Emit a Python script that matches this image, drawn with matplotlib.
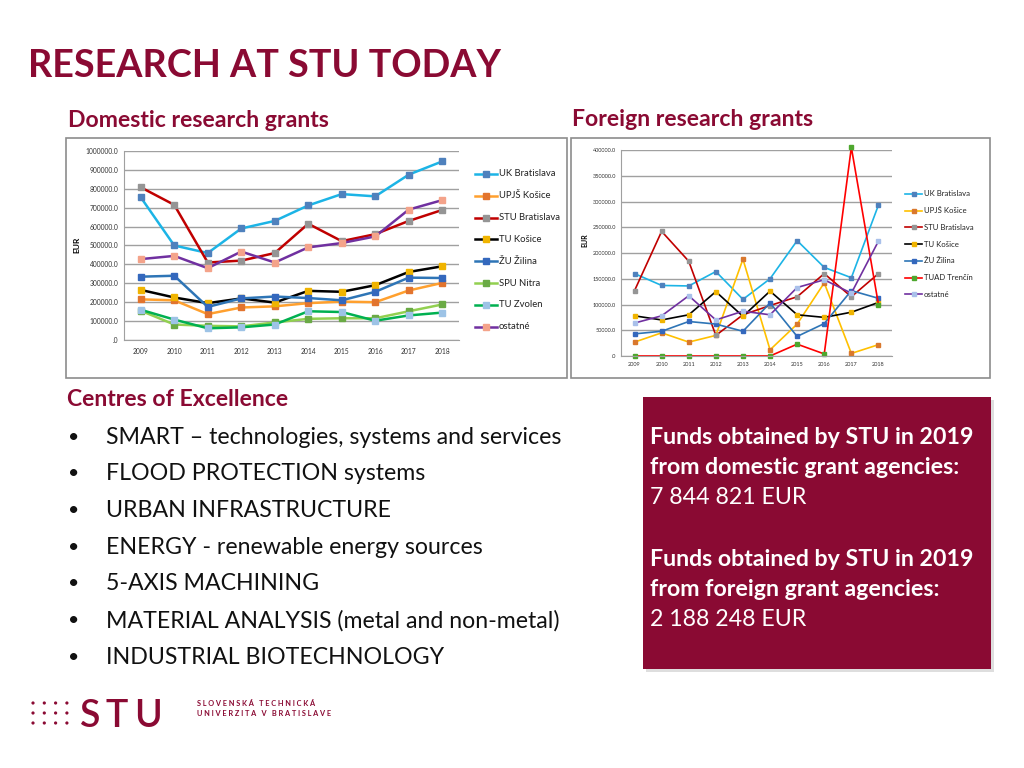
import matplotlib
matplotlib.use('Agg')
import matplotlib.pyplot as plt
from matplotlib.ticker import FuncFormatter, MultipleLocator
from matplotlib.patches import Rectangle, Circle
from matplotlib.lines import Line2D

plt.rcParams['font.family'] = ['Lato', 'DejaVu Sans']

# ---------------- data ----------------
years = ['2009', '2010', '2011', '2012', '2013', '2014', '2015', '2016', '2017', '2018']

dom_names = ['UK Bratislava', 'UPJŠ Košice', 'STU Bratislava', 'TU Košice',
             'ŽU Žilina', 'SPU Nitra', 'TU Zvolen', 'ostatné']
dom_uk_bratislava = [755000, 500000, 460000, 590000, 630000, 712000, 772000, 760000, 875000, 945000]
dom_upjs_kosice = [215000, 210000, 137000, 172000, 178000, 195000, 203000, 200000, 262000, 302000]
dom_stu_bratislava = [808000, 715000, 410000, 420000, 460000, 615000, 523000, 560000, 630000, 688000]
dom_tu_kosice = [265000, 225000, 195000, 220000, 198000, 260000, 255000, 290000, 360000, 390000]
dom_zu_zilina = [335000, 340000, 175000, 220000, 230000, 222000, 210000, 255000, 330000, 328000]
dom_spu_nitra = [155000, 82000, 75000, 72000, 93000, 112000, 115000, 115000, 152000, 188000]
dom_tu_zvolen = [160000, 108000, 62000, 67000, 82000, 152000, 148000, 102000, 130000, 145000]
dom_ostatne = [428000, 445000, 380000, 468000, 410000, 490000, 513000, 548000, 690000, 740000]

for_names = ['UK Bratislava', 'UPJŠ Košice', 'STU Bratislava', 'TU Košice',
             'ŽU Žilina', 'TUAD Trenčín', 'ostatné']
for_uk_bratislava = [160000, 137000, 136000, 164000, 110000, 150000, 224000, 172000, 152000, 293000]
for_upjs_kosice = [27000, 45000, 27000, 40000, 188000, 12000, 62000, 142000, 5000, 22000]
for_stu_bratislava = [127000, 242000, 184000, 40000, 80000, 98000, 115000, 160000, 115000, 160000]
for_tu_kosice = [78000, 70000, 80000, 125000, 77000, 126000, 80000, 75000, 85000, 104000]
for_zu_zilina = [43000, 48000, 67000, 62000, 48000, 103000, 38000, 63000, 127000, 112000]
for_tuad_trencin = [0, 0, 0, 0, 0, 0, 23000, 4000, 405000, 100000]
for_ostatne = [64000, 78000, 117000, 70000, 87000, 80000, 133000, 148000, 122000, 223000]

centres = ['SMART – technologies, systems and services',
           'FLOOD PROTECTION systems',
           'URBAN INFRASTRUCTURE',
           'ENERGY - renewable energy sources',
           '5-AXIS MACHINING',
           'MATERIAL ANALYSIS (metal and non-metal)',
           'INDUSTRIAL BIOTECHNOLOGY']

box_lines = [('Funds obtained by STU in 2019', 'bold'),
             ('from domestic grant agencies:', 'bold'),
             ('7 844 821 EUR', 'normal'),
             ('', 'normal'),
             ('Funds obtained by STU in 2019', 'bold'),
             ('from foreign grant agencies:', 'bold'),
             ('2 188 248 EUR', 'normal')]

# ---------------- styles ----------------
dom_values = [dom_uk_bratislava, dom_upjs_kosice, dom_stu_bratislava, dom_tu_kosice,
              dom_zu_zilina, dom_spu_nitra, dom_tu_zvolen, dom_ostatne]
dom_line_c = ['#1cb4e6', '#ffa02e', '#c00000', '#000000', '#2e75b6', '#92d050', '#00b050', '#7030a0']
dom_mark_c = ['#4f81bd', '#e2742e', '#959595', '#f0b400', '#3468bd', '#6aaa45', '#9dc3e6', '#f4a38a']

for_values = [for_uk_bratislava, for_upjs_kosice, for_stu_bratislava, for_tu_kosice,
              for_zu_zilina, for_tuad_trencin, for_ostatne]
for_line_c = ['#1cb4e6', '#ffc000', '#c00000', '#000000', '#2e75b6', '#ff0000', '#7030a0']
for_mark_c = ['#4f81bd', '#d9782d', '#959595', '#f0b400', '#3468bd', '#4ea72e', '#a9c0ea']

RED = '#8a0a33'
W, H = 1024, 768

fig = plt.figure(figsize=(W / 100, H / 100), dpi=100)
fig.patch.set_facecolor('white')

bg = fig.add_axes([0, 0, 1, 1], zorder=0)
bg.set_xlim(0, W)
bg.set_ylim(H, 0)
bg.axis('off')


def axes_px(l, t, r, b):
    return fig.add_axes([l / W, 1 - b / H, (r - l) / W, (b - t) / H], zorder=2)


def fmt(v, pos):
    return '.0' if v == 0 else f'{v:.1f}'


# title and headers
bg.text(28, 77, 'RESEARCH AT STU TODAY', fontsize=27.2, fontweight='bold', color=RED, va='baseline')
bg.text(68, 127, 'Domestic research grants', fontsize=16.6, fontweight='bold', color=RED, va='baseline')
bg.text(572, 126, 'Foreign research grants', fontsize=16.6, fontweight='bold', color=RED, va='baseline')

# chart frames
bg.add_patch(Rectangle((66, 138), 501, 240, facecolor='white', edgecolor='#8c8c8c', lw=1.2))
bg.add_patch(Rectangle((571, 138), 419, 240, facecolor='white', edgecolor='#8c8c8c', lw=1.2))


def setup_chart(ax, ymax, ystep, ylab_fs, xlab_fs, xpad, ypad):
    ax.set_facecolor('none')
    ax.set_xlim(-0.5, len(years) - 0.5)
    ax.set_ylim(0, ymax)
    ax.yaxis.set_major_locator(MultipleLocator(ystep))
    ax.yaxis.set_major_formatter(FuncFormatter(fmt))
    ax.set_xticks(range(len(years)))
    ax.set_xticklabels(years)
    ax.grid(axis='y', color='#a0a0a0', lw=1.0)
    ax.set_axisbelow(True)
    for s in ['top', 'right']:
        ax.spines[s].set_visible(False)
    ax.spines['left'].set_color('#a0a0a0')
    ax.spines['bottom'].set_color('#a0a0a0')
    ax.tick_params(axis='both', length=0, colors='#333333')
    ax.tick_params(axis='y', labelsize=ylab_fs, pad=ypad)
    ax.tick_params(axis='x', labelsize=xlab_fs, pad=xpad)


# domestic chart
axd = axes_px(124, 151, 459, 340)
setup_chart(axd, 1000000, 100000, 4.8, 4.9, 6, 4)
for vals, lc, mc in zip(dom_values, dom_line_c, dom_mark_c):
    axd.plot(range(len(years)), vals, color=lc, lw=1.8, marker='s', ms=4.4,
             mfc=mc, mec=mc, clip_on=False)
bg.text(77, 245, 'EUR', rotation=90, fontsize=6, fontweight='bold', ha='center', va='center')

# domestic legend
for i, (name, lc, mc) in enumerate(zip(dom_names, dom_line_c, dom_mark_c)):
    y = 174 + i * 21.8
    bg.add_line(Line2D([475, 497], [y, y], color=lc, lw=1.8))
    bg.add_line(Line2D([486], [y], marker='s', ms=4.4, mfc=mc, mec=mc, color=lc))
    bg.text(499, y, name, fontsize=6.8, va='center', ha='left', color='#222222')

# foreign chart
axf = axes_px(621, 150, 892, 356)
setup_chart(axf, 400000, 50000, 4.0, 4.0, 4.5, 3.5)
for vals, lc, mc in zip(for_values, for_line_c, for_mark_c):
    axf.plot(range(len(years)), vals, color=lc, lw=1.2, marker='s', ms=3.4,
             mfc=mc, mec=mc, clip_on=False)
bg.text(585, 240, 'EUR', rotation=90, fontsize=5, fontweight='bold', ha='center', va='center')

for i, (name, lc, mc) in enumerate(zip(for_names, for_line_c, for_mark_c)):
    y = 194 + i * 16.7
    bg.add_line(Line2D([905, 922], [y, y], color=lc, lw=1.2))
    bg.add_line(Line2D([913.5], [y], marker='s', ms=3.3, mfc=mc, mec=mc, color=lc))
    bg.text(924, y, name, fontsize=5.6, va='center', ha='left', color='#222222')

# Centres of Excellence
bg.text(67, 400, 'Centres of Excellence', fontsize=16.6, fontweight='bold', color=RED, va='center')
for i, item in enumerate(centres):
    y = 437 + i * 36.7
    bg.text(74, y, '•', fontsize=14, va='center', ha='center', color='#111111')
    bg.text(106, y, item, fontsize=16.7, va='center', ha='left', color='#111111')

# red box
bg.add_patch(Rectangle((646, 400), 348, 272, facecolor='#c8c8c8', edgecolor='none', alpha=0.6))
bg.add_patch(Rectangle((643, 397), 348, 272, facecolor=RED, edgecolor='none'))
box_y = [437, 468, 498, 529, 560, 590, 620]
for (txt, wt), y in zip(box_lines, box_y):
    if txt:
        bg.text(650, y, txt, fontsize=16.7, fontweight=wt, color='white', va='center', ha='left')

# logo
for r in range(3):
    for c in range(4):
        bg.add_patch(Circle((33 + c * 11.3, 703 + r * 10), 1.6, facecolor=RED, edgecolor='none'))
for ch, cx in zip('STU', [90, 117, 148]):
    bg.text(cx, 727, ch, fontsize=27, color=RED, ha='center', va='baseline', fontweight='semibold')
bg.text(197, 703, ' '.join('SLOVENSKÁ') + '   ' + ' '.join('TECHNICKÁ'), fontsize=5.3,
        color=RED, va='center', ha='left', fontweight='bold')
bg.text(197, 714, ' '.join('UNIVERZITA') + '   V   ' + ' '.join('BRATISLAVE'), fontsize=5.3,
        color=RED, va='center', ha='left', fontweight='bold')

fig.savefig('out.png', dpi=100)
